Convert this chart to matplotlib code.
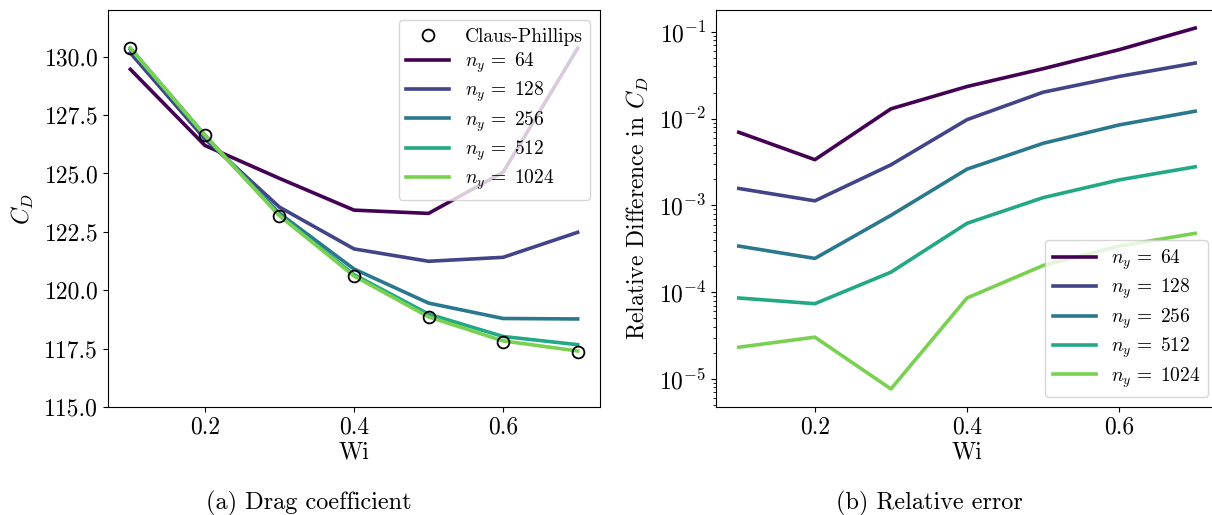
import matplotlib
matplotlib.use("Agg")
import matplotlib.pyplot as plt
import numpy as np

plt.rcParams['font.family'] = 'serif'
plt.rcParams['font.serif'] = ['cmr10', 'DejaVu Serif']
plt.rcParams['mathtext.fontset'] = 'cm'
plt.rcParams['axes.formatter.use_mathtext'] = True
plt.rcParams['axes.unicode_minus'] = False

wi = [0.1, 0.2, 0.3, 0.4, 0.5, 0.6, 0.7]
claus_phillips = [130.36, 126.63, 123.19, 120.60, 118.84, 117.79, 117.34]
ny_labels = ["64", "128", "256", "512", "1024"]
cd_64 = [129.46, 126.20, 124.79, 123.43, 123.29, 125.05, 130.36]
cd_128 = [130.16, 126.48, 123.56, 121.77, 121.24, 121.41, 122.48]
cd_256 = [130.32, 126.60, 123.29, 120.91, 119.45, 118.79, 118.77]
cd_512 = [130.37, 126.64, 123.21, 120.67, 118.98, 118.02, 117.67]
cd_1024 = [130.36, 126.63, 123.19, 120.61, 118.86, 117.83, 117.40]
err_64 = [6.97e-3, 3.37e-3, 1.30e-2, 2.35e-2, 3.77e-2, 6.25e-2, 1.11e-1]
err_128 = [1.57e-3, 1.13e-3, 2.94e-3, 9.75e-3, 2.02e-2, 3.07e-2, 4.38e-2]
err_256 = [3.40e-4, 2.45e-4, 7.69e-4, 2.62e-3, 5.20e-3, 8.48e-3, 1.22e-2]
err_512 = [8.57e-5, 7.37e-5, 1.70e-4, 6.22e-4, 1.23e-3, 1.97e-3, 2.79e-3]
err_1024 = [2.32e-5, 3.03e-5, 7.66e-6, 8.57e-5, 2.03e-4, 3.40e-4, 4.77e-4]

cd_series = [cd_64, cd_128, cd_256, cd_512, cd_1024]
err_series = [err_64, err_128, err_256, err_512, err_1024]
colors = ['#440154', '#414487', '#2a788e', '#22a884', '#7ad151']

W, H = 1212, 515
fig = plt.figure(figsize=(W / 100, H / 100), dpi=100)

ax1 = fig.add_axes([108 / W, 108 / H, 492 / W, 397 / H])
ax2 = fig.add_axes([716 / W, 108 / H, 502 / W, 397 / H])

tick_fs = 17
lw = 2.6
leg_fs = 14


def ny_label(n):
    return r'$n_y\,{=}\;' + n + '$'


ax1.plot(wi, claus_phillips, 'o', mfc='none', mec='k', ms=8.5, mew=1.3,
         label='Claus-Phillips', zorder=5)
for vals, lab, c in zip(cd_series, ny_labels, colors):
    ax1.plot(wi, vals, color=c, lw=lw, label=ny_label(lab))
ax1.set_ylim(115, 132)
ax1.set_yticks([115.0, 117.5, 120.0, 122.5, 125.0, 127.5, 130.0])
ax1.set_yticklabels(['115.0', '117.5', '120.0', '122.5', '125.0', '127.5', '130.0'])
ax1.set_xticks([0.2, 0.4, 0.6])
ax1.set_xticklabels(['0.2', '0.4', '0.6'])
ax1.set_xlabel('Wi', fontsize=tick_fs, labelpad=2)
ax1.set_ylabel(r'$C_D$', fontsize=tick_fs, labelpad=6)
ax1.tick_params(labelsize=tick_fs)
ax1.legend(loc='upper right', fontsize=leg_fs, handlelength=2.2, borderaxespad=0.5,
           labelspacing=0.25)

for vals, lab, c in zip(err_series, ny_labels, colors):
    ax2.plot(wi, vals, color=c, lw=lw, label=ny_label(lab))
ax2.set_yscale('log')
ax2.set_xticks([0.2, 0.4, 0.6])
ax2.set_xticklabels(['0.2', '0.4', '0.6'])
ax2.set_xlabel('Wi', fontsize=tick_fs, labelpad=2)
ax2.set_ylabel(r'Relative Difference in $C_D$', fontsize=tick_fs, labelpad=6)
ax2.tick_params(labelsize=tick_fs)
ax2.legend(loc='lower right', fontsize=leg_fs, handlelength=2.2, borderaxespad=0.5,
           labelspacing=0.25)

fig.text(309 / W, 1 - 503 / H, '(a) Drag coefficient', ha='center', va='center', fontsize=17.5)
fig.text(929 / W, 1 - 503 / H, '(b) Relative error', ha='center', va='center', fontsize=17.5)

fig.savefig('out.png', dpi=100)
